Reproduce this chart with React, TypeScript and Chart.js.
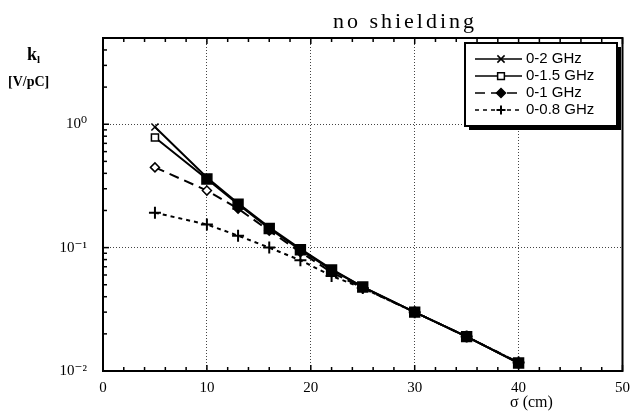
import React, { useEffect, useRef } from 'react';
import { Chart, registerables } from 'chart.js';
Chart.register(...registerables);

const sigma = [5, 10, 13, 16, 19, 22, 25, 30, 35, 40];
const k2GHz = [0.95, 0.37, 0.229, 0.146, 0.098, 0.067, 0.048, 0.030, 0.019, 0.0116];
const k15GHz = [0.78, 0.36, 0.225, 0.143, 0.096, 0.066, 0.048, 0.030, 0.019, 0.0116];
const k1GHz = [0.447, 0.29, 0.207, 0.137, 0.092, 0.063, 0.047, 0.030, 0.019, 0.0117];
const k08GHz = [0.192, 0.154, 0.125, 0.1, 0.079, 0.059, 0.047, 0.030, 0.019, 0.0117];
const seriesLabels = ['0-2 GHz', '0-1.5 GHz', '0-1 GHz', '0-0.8 GHz'];
const xTickValues = [0, 10, 20, 30, 40, 50];
const yTickValues = [0.01, 0.1, 1];
const yTickLabels = ['10\u207B\u00B2', '10\u207B\u00B9', '10\u2070'];
const titleText = 'no shielding';
const xTitle = '\u03C3 (cm)';
const yTitleMain = 'k';
const yTitleSub = 'l';
const yUnit = '[V/pC]';

const SERIF = '"Liberation Serif", "DejaVu Serif", serif';
const SANS = '"Liberation Sans", Arial, sans-serif';

function drawMarker(ctx: CanvasRenderingContext2D, style: string, x: number, y: number, r: number, fill: string) {
  ctx.save();
  ctx.setLineDash([]);
  ctx.strokeStyle = '#000';
  ctx.fillStyle = fill;
  ctx.lineWidth = 1.5;
  ctx.beginPath();
  if (style === 'crossRot') {
    ctx.moveTo(x - r * 0.8, y - r * 0.8); ctx.lineTo(x + r * 0.8, y + r * 0.8);
    ctx.moveTo(x + r * 0.8, y - r * 0.8); ctx.lineTo(x - r * 0.8, y + r * 0.8);
    ctx.stroke();
  } else if (style === 'cross') {
    ctx.lineWidth = 2;
    ctx.moveTo(x - r, y); ctx.lineTo(x + r, y);
    ctx.moveTo(x, y - r); ctx.lineTo(x, y + r);
    ctx.stroke();
  } else if (style === 'rect') {
    ctx.rect(x - r * 0.75, y - r * 0.75, r * 1.5, r * 1.5);
    ctx.fill(); ctx.stroke();
  } else if (style === 'rectRot') {
    ctx.moveTo(x, y - r); ctx.lineTo(x + r, y); ctx.lineTo(x, y + r); ctx.lineTo(x - r, y); ctx.closePath();
    ctx.fill(); ctx.stroke();
  }
  ctx.restore();
}

const decorPlugin = {
  id: 'decor',
  afterDraw(chart: any) {
    const { ctx, chartArea: ca, scales } = chart;
    const xs = scales.x;
    const ys = scales.y;
    ctx.save();
    ctx.strokeStyle = '#000';
    ctx.lineWidth = 2;
    ctx.setLineDash([]);
    ctx.strokeRect(ca.left, ca.top, ca.right - ca.left, ca.bottom - ca.top);
    ctx.lineWidth = 1.5;
    for (let v = xs.min; v <= xs.max; v += 2) {
      const px = xs.getPixelForValue(v);
      const len = v % 10 === 0 ? 6 : 4;
      ctx.beginPath();
      ctx.moveTo(px, ca.bottom);
      ctx.lineTo(px, ca.bottom - len);
      ctx.moveTo(px, ca.top);
      ctx.lineTo(px, ca.top + len);
      ctx.stroke();
    }
    for (let d = 0.01; d < ys.max; d *= 10) {
      for (let m = 1; m <= 9; m++) {
        const v = d * m;
        if (v < ys.min || v > ys.max) continue;
        const py = ys.getPixelForValue(v);
        const len = m === 1 ? 6 : 4;
        ctx.beginPath();
        ctx.moveTo(ca.left, py);
        ctx.lineTo(ca.left + len, py);
        ctx.stroke();
      }
    }
    ctx.fillStyle = '#000';
    ctx.font = `22px ${SERIF}`;
    (ctx as any).letterSpacing = '3px';
    ctx.textAlign = 'center';
    ctx.textBaseline = 'alphabetic';
    ctx.fillText(titleText, 405, 28);
    (ctx as any).letterSpacing = '0px';
    ctx.textAlign = 'left';
    ctx.font = `bold 18px ${SERIF}`;
    ctx.fillText(yTitleMain, 27, 60);
    ctx.font = `bold 11px ${SERIF}`;
    ctx.fillText(yTitleSub, 37, 63);
    ctx.font = `bold 14px ${SERIF}`;
    ctx.fillText(yUnit, 8, 86);
    ctx.font = `16px ${SERIF}`;
    ctx.fillText(xTitle, 510, 407);
    const lx = 465, ly = 43, lw = 152, lh = 83;
    ctx.fillStyle = '#fff';
    ctx.fillRect(lx, ly, lw, lh);
    ctx.fillStyle = '#000';
    ctx.fillRect(lx + 4, ly + lh, lw, 4);
    ctx.fillRect(lx + lw, ly + 4, 4, lh);
    ctx.lineWidth = 2;
    ctx.strokeStyle = '#000';
    ctx.strokeRect(lx, ly, lw, lh);
    const rowY = [59, 76, 93, 110];
    const markerFill = ['#000', '#fff', '#000', '#000'];
    chart.data.datasets.forEach((ds: any, i: number) => {
      const y = rowY[i];
      ctx.strokeStyle = '#000';
      ctx.lineWidth = 1.5;
      ctx.setLineDash(ds.borderDash || []);
      ctx.beginPath();
      ctx.moveTo(475, y);
      ctx.lineTo(522, y);
      ctx.stroke();
      ctx.setLineDash([]);
      drawMarker(ctx, ds.pointStyle, 501, y, 4.5, markerFill[i]);
      ctx.fillStyle = '#000';
      ctx.font = `15px ${SANS}`;
      ctx.textAlign = 'left';
      ctx.textBaseline = 'middle';
      ctx.fillText(ds.label, 526, y);
    });
    ctx.restore();
  },
};

export default function App() {
  const ref = useRef<HTMLCanvasElement | null>(null);
  useEffect(() => {
    document.body.style.margin = '0';
    const mk = (arr: number[]) => sigma.map((s, i) => ({ x: s, y: arr[i] }));
    const chart = new Chart(ref.current as HTMLCanvasElement, {
      type: 'line',
      data: {
        datasets: [
          {
            label: seriesLabels[0], data: mk(k2GHz), borderColor: '#000', borderWidth: 2,
            pointStyle: 'crossRot', pointRadius: 5, pointBorderWidth: 1.5, pointBorderColor: '#000',
            pointBackgroundColor: '#000', fill: false, tension: 0,
          },
          {
            label: seriesLabels[1], data: mk(k15GHz), borderColor: '#000', borderWidth: 2,
            pointStyle: 'rect', pointRadius: (c: any) => (c.dataIndex === 0 ? 5 : 7), pointBorderWidth: 1.5, pointBorderColor: '#000',
            pointBackgroundColor: (c: any) => (c.dataIndex === 0 ? '#fff' : '#000'), fill: false, tension: 0,
          },
          {
            label: seriesLabels[2], data: mk(k1GHz), borderColor: '#000', borderWidth: 2, borderDash: [10, 6],
            pointStyle: 'rectRot', pointRadius: 4.5, pointBorderWidth: 1.5, pointBorderColor: '#000',
            pointBackgroundColor: (c: any) => (c.dataIndex < 2 ? '#fff' : '#000'), fill: false, tension: 0,
          },
          {
            label: seriesLabels[3], data: mk(k08GHz), borderColor: '#000', borderWidth: 2, borderDash: [4, 4],
            pointStyle: 'cross', pointRadius: 6, pointBorderWidth: 2, pointBorderColor: '#000',
            pointBackgroundColor: '#000', fill: false, tension: 0,
          },
        ],
      },
      options: {
        animation: false,
        responsive: true,
        maintainAspectRatio: false,
        layout: { padding: { top: 38, right: 8, left: 0, bottom: 0 } },
        plugins: { legend: { display: false }, tooltip: { enabled: false }, title: { display: false } },
        scales: {
          x: {
            type: 'linear', min: 0, max: 50,
            afterFit: (s: any) => { s.height = 42; },
            afterBuildTicks: (s: any) => { s.ticks = xTickValues.map((v) => ({ value: v })); },
            ticks: { color: '#000', font: { family: SERIF, size: 15 }, padding: 8, maxRotation: 0,
              callback: (v: any) => String(v) },
            grid: {
              drawTicks: false, color: (c: any) => (c.tick && (c.tick.value === 0 || c.tick.value === 50) ? 'rgba(0,0,0,0)' : '#444'),
              lineWidth: 1,
            },
            border: { display: true, color: '#000', width: 2, dash: [1, 2] } as any,
          },
          y: {
            type: 'logarithmic', min: 0.01, max: 5,
            afterFit: (s: any) => { s.width = 103; },
            afterBuildTicks: (s: any) => { s.ticks = yTickValues.map((v) => ({ value: v })); },
            ticks: { color: '#000', font: { family: SERIF, size: 15 }, padding: 16,
              callback: (v: any) => { const i = yTickValues.indexOf(Number(v)); return i >= 0 ? yTickLabels[i] : ''; } },
            grid: {
              drawTicks: false, color: (c: any) => (c.tick && c.tick.value === 0.01 ? 'rgba(0,0,0,0)' : '#444'),
              lineWidth: 1,
            },
            border: { display: true, color: '#000', width: 2, dash: [1, 2] } as any,
          },
        },
      } as any,
      plugins: [decorPlugin],
    });
    return () => chart.destroy();
  }, []);
  return (
    <div style={{ position: 'absolute', left: 0, top: 0, width: 638, height: 413 }}>
      <canvas ref={ref} />
    </div>
  );
}
